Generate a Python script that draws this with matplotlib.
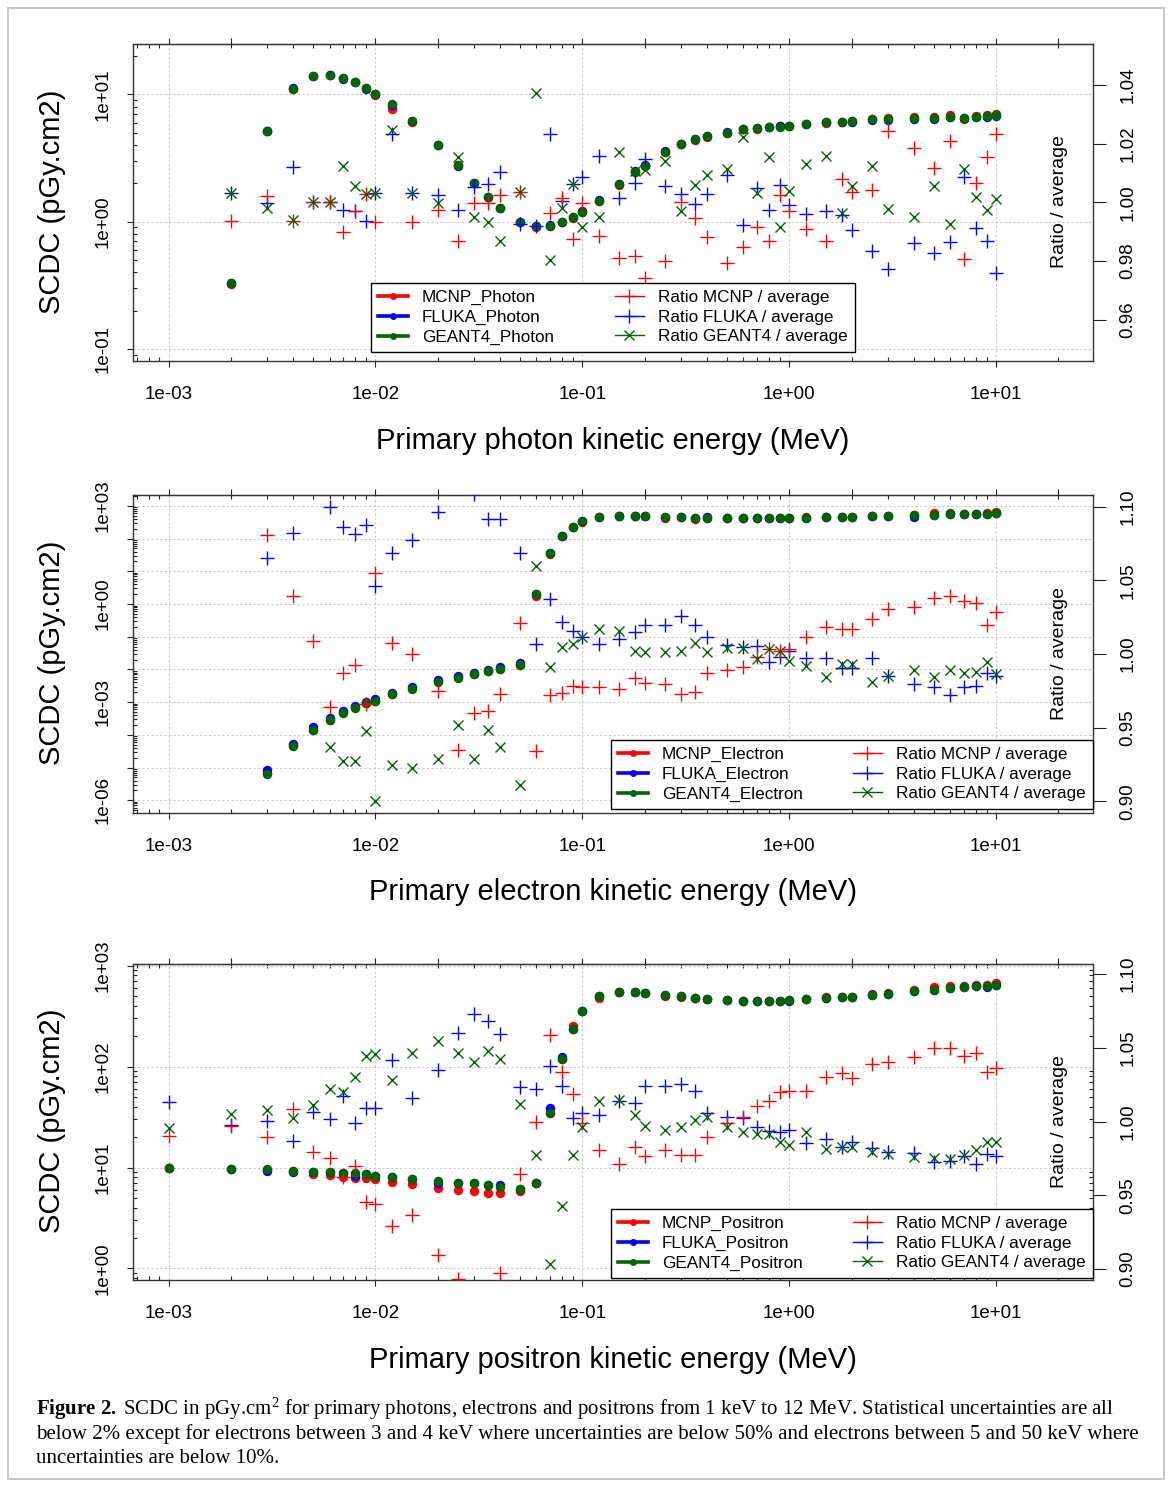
import matplotlib
matplotlib.use('Agg')
import matplotlib.pyplot as plt
from matplotlib.lines import Line2D
from matplotlib.patches import Rectangle
from matplotlib.ticker import LogLocator, FuncFormatter, NullFormatter, NullLocator, FixedLocator
import numpy as np

plt.rcParams['font.family'] = ['Liberation Sans', 'DejaVu Sans']
plt.rcParams['mathtext.fontset'] = 'custom'
plt.rcParams['mathtext.rm'] = 'Liberation Serif'
plt.rcParams['mathtext.bf'] = 'Liberation Serif:bold'
plt.rcParams['mathtext.it'] = 'Liberation Serif:italic'

# ---------------- DATA ----------------
E_photon = [0.002, 0.003, 0.004, 0.005, 0.006, 0.007, 0.008, 0.009, 0.01, 0.012, 0.015,
            0.02, 0.025, 0.03, 0.035, 0.04, 0.05, 0.06, 0.07, 0.08, 0.09, 0.1, 0.12, 0.15, 0.18,
            0.2, 0.25, 0.3, 0.35, 0.4, 0.5, 0.6, 0.7, 0.8, 0.9, 1, 1.2, 1.5, 1.8,
            2, 2.5, 3, 4, 5, 6, 7, 8, 9, 10]
photon_geant4 = [0.332, 5.19, 11.1, 13.9, 14.2, 13.5, 12.4, 11.3, 10.1, 8.35, 6.14,
                 3.98, 2.79, 2.0, 1.55, 1.28, 1.0, 0.93, 0.93, 1.0, 1.08, 1.2, 1.46, 1.96, 2.47,
                 2.75, 3.55, 4.07, 4.43, 4.71, 5.0, 5.35, 5.41, 5.58, 5.58, 5.64, 5.85, 6.03, 6.07,
                 6.14, 6.37, 6.40, 6.48, 6.56, 6.68, 6.48, 6.68, 6.76, 6.88]
photon_mcnp = [0.325, 5.19, 11.1, 13.9, 14.2, 13.4, 12.4, 11.2, 9.85, 7.67, 6.10,
               3.98, 2.79, 2.0, 1.55, 1.28, 1.0, 0.90, 0.93, 1.0, 1.06, 1.2, 1.44, 1.93, 2.44,
               2.72, 3.50, 4.07, 4.40, 4.66, 4.95, 5.30, 5.38, 5.52, 5.60, 5.62, 5.80, 5.98, 6.10,
               6.16, 6.40, 6.55, 6.60, 6.65, 6.85, 6.40, 6.75, 6.90, 7.0]
photon_fluka = [0.332, 5.19, 11.3, 13.9, 14.2, 13.2, 12.4, 11.1, 10.1, 8.2, 6.14,
                3.98, 2.75, 2.0, 1.56, 1.29, 0.99, 0.92, 0.94, 1.0, 1.08, 1.21, 1.48, 1.96, 2.48,
                2.78, 3.56, 4.08, 4.43, 4.72, 5.04, 5.31, 5.44, 5.56, 5.61, 5.63, 5.83, 6.01, 6.04,
                6.09, 6.27, 6.26, 6.39, 6.45, 6.59, 6.54, 6.62, 6.67, 6.72]
ratio_photon_mcnp = [0.9936, 1.0022, 0.9936, 1.0, 1.0, 0.99, 0.9972, 1.0028, 0.9934, 0.953, 0.9934,
                     0.9974, 0.9868, 0.9999, 0.9999, 1.0025, 1.0036, 0.970, 0.9965, 1.0014, 0.9874, 0.9999,
                     0.9885, 0.9809, 0.9817, 0.9741, 0.98, 1.0, 0.9946, 0.9881, 0.9795, 0.9847, 0.9917,
                     0.9868, 1.0025, 0.9972, 0.9908, 0.9868, 1.0078, 1.0036, 1.0042, 1.0243, 1.0184,
                     1.0116, 1.021, 0.9806, 1.0065, 1.0153, 1.0232]
ratio_photon_fluka = [1.0031, 0.9999, 1.0119, 1.0, 1.0, 0.9974, 0.9972, 0.9938, 1.0031, 1.0232, 1.0031,
                      1.0025, 0.9974, 1.0053, 1.0062, 1.0102, 0.9928, 0.992, 1.0233, 1.0006, 1.0062, 1.0085,
                      1.0158, 1.0016, 1.0067, 1.0146, 1.0057, 1.0028, 0.9994, 1.0028, 1.0093, 0.9923, 1.005,
                      0.9974, 1.0059, 0.9991, 0.996, 0.997, 0.9957, 0.9906, 0.9835, 0.9772, 0.986,
                      0.9826, 0.9864, 1.0085, 0.9914, 0.9868, 0.976]
ratio_photon_geant4 = [1.0031, 0.9982, 0.994, 1.0, 1.0, 1.0125, 1.0056, 1.0028, 1.0031, 1.0246, 1.0031,
                       0.9997, 1.0155, 0.9949, 0.9934, 0.9869, 1.0036, 1.0373, 0.9804, 0.998, 1.0062, 0.9915,
                       0.9951, 1.017, 1.0108, 1.011, 1.0142, 0.9972, 1.0059, 1.0093, 1.0113, 1.0224, 1.0031,
                       1.0155, 0.9917, 1.004, 1.0131, 1.0158, 0.9963, 1.0057, 1.0124, 0.9976, 0.9951,
                       1.0056, 0.9925, 1.0112, 1.0019, 0.9974, 1.001]

E_electron = [0.003, 0.004, 0.005, 0.006, 0.007, 0.008, 0.009, 0.01, 0.012, 0.015,
              0.02, 0.025, 0.03, 0.035, 0.04, 0.05, 0.06, 0.07, 0.08, 0.09, 0.1, 0.12, 0.15, 0.18,
              0.2, 0.25, 0.3, 0.35, 0.4, 0.5, 0.6, 0.7, 0.8, 0.9, 1, 1.2, 1.5, 1.8,
              2, 2.5, 3, 4, 5, 6, 7, 8, 9, 10]
electron_geant4 = [6.5e-6, 4.65e-5, 1.4e-4, 2.8e-4, 4.8e-4, 6.8e-4, 9.1e-4, 1.08e-3, 1.73e-3, 2.6e-3,
                   4.2e-3, 5.6e-3, 7.2e-3, 8.9e-3, 1.0e-2, 1.33e-2, 2.07, 35.5, 120, 232, 355, 457, 493, 505,
                   505, 468, 457, 437, 437, 417, 417, 417, 417, 417, 417, 437, 457, 457,
                   457, 493, 493, 526, 526, 550, 563, 563, 576, 590]
electron_mcnp = [6.8e-6, 4.8e-5, 1.45e-4, 2.9e-4, 4.9e-4, 7.0e-4, 9.3e-4, 1.1e-3, 1.78e-3, 2.65e-3,
                 4.3e-3, 5.7e-3, 7.4e-3, 9.1e-3, 1.03e-2, 1.36e-2, 1.76, 34.0, 118, 228, 325, 450, 490, 502,
                 505, 415, 455, 398, 437, 417, 417, 417, 417, 417, 420, 468, 460, 460,
                 460, 500, 505, 540, 590, 590, 575, 575, 590, 662]
electron_fluka = [8.2e-6, 5.4e-5, 1.7e-4, 3.2e-4, 5.3e-4, 7.7e-4, 9.9e-4, 1.24e-3, 1.95e-3, 2.9e-3,
                  4.6e-3, 6.3e-3, 8.0e-3, 9.6e-3, 1.17e-2, 1.53e-2, 2.07, 35.5, 122, 232, 355, 457, 493, 505,
                  505, 468, 457, 437, 470, 417, 417, 417, 417, 417, 417, 437, 457, 457,
                  457, 493, 493, 468, 526, 550, 563, 563, 576, 590]
ratio_electron_mcnp = [1.0805, 1.0395, 1.0091, 0.964, 0.9868, 0.9925, 0.966, 1.0549, 1.0073, 0.9998,
                       0.9748, 0.9351, 0.9596, 0.9614, 0.9728, 1.0209, 0.9342, 0.9721, 0.9732, 0.9782,
                       0.9778, 0.9778, 0.976, 0.9839, 0.98, 0.9794, 0.9728, 0.9739, 0.9873, 0.9891,
                       0.9909, 0.9982, 1.0034, 1.0023, 1.0034, 1.0118, 1.0186, 1.017, 1.017, 1.0238,
                       1.0304, 1.0318, 1.0379, 1.0395, 1.0361, 1.0345, 1.0197, 1.0288]
ratio_electron_fluka = [1.0655, 1.0821, 1.12, 1.0996, 1.0866, 1.0814, 1.0873, 1.0465, 1.0689, 1.0776,
                        1.0964, 1.113, 1.109, 1.0916, 1.0916, 1.0689, 1.0066, 1.0372, 1.022, 1.0159,
                        1.0118, 1.0066, 1.0102, 1.0152, 1.0197, 1.0197, 1.0259, 1.0197, 1.0118, 1.0061,
                        1.005, 1.0057, 0.9943, 0.9982, 1.0023, 0.997, 0.9975, 0.9907, 0.9907, 0.997,
                        0.9853, 0.9794, 0.9778, 0.9721, 0.9778, 0.9785, 0.9868, 0.9853]
ratio_electron_geant4 = [0.854, 0.878, 0.871, 0.937, 0.9272, 0.9272, 0.9476, 0.90, 0.9245, 0.9227,
                         0.9286, 0.9521, 0.929, 0.9483, 0.937, 0.9109, 1.0599, 0.9914, 1.005, 1.0068,
                         1.0118, 1.017, 1.0156, 1.002, 1.0016, 1.0016, 1.002, 1.0073, 1.0011, 1.0043,
                         1.0043, 0.9966, 1.0034, 1.0023, 0.9955, 0.9921, 0.9846, 0.993, 0.993, 0.9807,
                         0.9853, 0.9891, 0.9846, 0.9891, 0.9868, 0.9875, 0.9948, 0.9864]

E_positron = [0.001, 0.002, 0.003, 0.004, 0.005, 0.006, 0.007, 0.008, 0.009, 0.01, 0.012, 0.015,
              0.02, 0.025, 0.03, 0.035, 0.04, 0.05, 0.06, 0.07, 0.08, 0.09, 0.1, 0.12, 0.15, 0.18,
              0.2, 0.25, 0.3, 0.35, 0.4, 0.5, 0.6, 0.7, 0.8, 0.9, 1, 1.2, 1.5, 1.8,
              2, 2.5, 3, 4, 5, 6, 7, 8, 9, 10]
positron_geant4 = [10.0, 9.7, 9.6, 9.33, 9.0, 9.0, 8.79, 8.79, 8.59, 8.33, 8.14, 7.66,
                   7.43, 7.10, 7.0, 6.73, 6.38, 6.14, 7.10, 34.6, 118, 237, 352, 501, 545, 545,
                   536, 516, 496, 478, 471, 453, 443, 443, 443, 443, 460, 471, 478, 489,
                   489, 516, 527, 556, 578, 601, 614, 624, 634, 649]
positron_mcnp = [10.0, 9.7, 9.5, 9.2, 8.6, 8.46, 8.14, 7.96, 7.84, 7.66, 7.27, 6.84,
                 6.33, 6.0, 5.87, 5.56, 5.56, 5.92, 7.10, 34.6, 120, 250, 352, 481, 545, 545,
                 536, 505, 485, 478, 471, 453, 443, 443, 443, 443, 460, 471, 485, 495,
                 495, 525, 540, 575, 614, 634, 630, 640, 640, 675]
positron_fluka = [10.0, 9.7, 9.3, 9.0, 9.0, 9.0, 8.79, 8.3, 8.59, 8.33, 8.14, 7.66,
                  7.0, 7.10, 7.1, 6.73, 6.65, 6.14, 7.10, 39.2, 125, 237, 352, 501, 545, 545,
                  536, 516, 496, 478, 471, 453, 443, 443, 443, 443, 450, 471, 478, 489,
                  489, 516, 527, 556, 578, 601, 614, 624, 620, 649]
ratio_positron_mcnp = [0.9905, 0.9971, 0.9898, 1.0086, 0.9792, 0.9751, 0.9627, 0.9701, 0.9457, 0.9439,
                       0.9292, 0.9367, 0.9095, 0.8932, 0.8865, 0.884, 0.8971, 0.9645, 0.9995, 1.0588,
                       1.0333, 1.0185, 0.9989, 0.9808, 0.9713, 0.983, 0.9769, 0.9808, 0.9774, 0.9774,
                       0.9898, 0.9989, 1.0029, 1.0106, 1.014, 1.0199, 1.0208, 1.0208, 1.0305, 1.0328,
                       1.0294, 1.0389, 1.0407, 1.0437, 1.0498, 1.0498, 1.0441, 1.0464, 1.0339, 1.0366]
ratio_positron_fluka = [1.0131, 0.998, 1.0007, 0.9871, 1.0068, 1.0016, 1.017, 0.9989, 1.009, 1.0095,
                        1.0418, 1.0163, 1.0351, 1.0599, 1.0728, 1.0679, 1.0595, 1.0231, 1.0219, 1.0378,
                        1.0244, 1.0023, 1.0057, 1.0045, 1.0136, 1.0124, 1.0244, 1.0238, 1.0253, 1.0204,
                        1.0057, 1.0029, 1.0023, 0.9962, 0.9939, 0.9932, 0.9943, 0.9853, 0.988, 0.983,
                        0.9864, 0.9819, 0.9796, 0.9785, 0.9729, 0.9735, 0.9767, 0.971, 0.9781, 0.9767]
ratio_positron_geant4 = [0.9959, 1.005, 1.0079, 1.0023, 1.0113, 1.0222, 1.0199, 1.0305, 1.0441, 1.0459,
                         1.0283, 1.0464, 1.0543, 1.0464, 1.0407, 1.048, 1.0423, 1.0118, 0.9774, 0.9032,
                         0.9428, 0.9774, 0.9966, 1.0136, 1.0147, 1.0045, 0.9973, 0.9943, 0.9962, 1.0011,
                         1.0034, 0.9966, 0.9928, 0.9916, 0.9916, 0.986, 0.9842, 0.9928, 0.9812, 0.983,
                         0.983, 0.9796, 0.9781, 0.9762, 0.9756, 0.9744, 0.9774, 0.9808, 0.986, 0.986]

x_label_texts = ['Primary photon kinetic energy (MeV)',
                 'Primary electron kinetic energy (MeV)',
                 'Primary positron kinetic energy (MeV)']
series_names = [['MCNP_Photon', 'FLUKA_Photon', 'GEANT4_Photon'],
                ['MCNP_Electron', 'FLUKA_Electron', 'GEANT4_Electron'],
                ['MCNP_Positron', 'FLUKA_Positron', 'GEANT4_Positron']]
ratio_names = ['Ratio MCNP / average', 'Ratio FLUKA / average', 'Ratio GEANT4 / average']
caption_lines = [
    r"$\mathbf{Figure\ 2.}\;$SCDC in pGy.cm$^{2}$ for primary photons, electrons and positrons from 1 keV to 12 MeV. Statistical uncertainties are all",
    "below 2% except for electrons between 3 and 4 keV where uncertainties are below 50% and electrons between 5 and 50 keV where",
    "uncertainties are below 10%.",
]

# ---------------- LAYOUT ----------------
W, H = 1171, 1485
fig = plt.figure(figsize=(W / 100, H / 100), dpi=100)

RED, BLUE, GREEN = '#FF0000', '#0000FF', '#006400'
AX_L, AX_R = 133, 1093
XLIM = (10 ** -3.172, 10 ** 1.468)


def fx(px):
    return px / W


def fy(py):
    return 1 - py / H


def sci(v, pos=None):
    return '%.0e' % v


panels = [
    dict(top=44, bot=361, ylog=(-1.094, 1.395), rlim=(0.946, 1.0539),
         rticks=[0.96, 0.98, 1.00, 1.02, 1.04], label_every=1,
         leg=(371, 352, 855), xl_y=441, mid=202, right_minor=False,
         E=E_photon, vals=(photon_mcnp, photon_fluka, photon_geant4),
         ratios=(ratio_photon_mcnp, ratio_photon_fluka, ratio_photon_geant4)),
    dict(top=495, bot=813, ylog=(-6.39, 3.333), rlim=(0.892, 1.108),
         rticks=[0.90, 0.95, 1.00, 1.05, 1.10], label_every=3,
         leg=(611, 809, 1093), xl_y=892, mid=653, right_minor=False,
         E=E_electron, vals=(electron_mcnp, electron_fluka, electron_geant4),
         ratios=(ratio_electron_mcnp, ratio_electron_fluka, ratio_electron_geant4)),
    dict(top=964, bot=1280, ylog=(-0.114, 3.017), rlim=(0.8926, 1.1068),
         rticks=[0.90, 0.95, 1.00, 1.05, 1.10], label_every=1,
         leg=(611, 1278, 1093), xl_y=1360, mid=1121, right_minor=True,
         E=E_positron, vals=(positron_mcnp, positron_fluka, positron_geant4),
         ratios=(ratio_positron_mcnp, ratio_positron_fluka, ratio_positron_geant4)),
]

for i, p in enumerate(panels):
    ax = fig.add_axes([fx(AX_L), fy(p['bot']), (AX_R - AX_L) / W, (p['bot'] - p['top']) / H])
    ax.set_xscale('log')
    ax.set_yscale('log')
    ax2 = ax.twinx()
    ax2.set_yscale('linear')
    ax.set_xlim(*XLIM)
    ax.set_ylim(10 ** p['ylog'][0], 10 ** p['ylog'][1])
    ax2.set_ylim(*p['rlim'])
    ax.set_axisbelow(True)

    # dots
    for vals, col in zip(p['vals'], (RED, BLUE, GREEN)):
        ax.plot(p['E'], vals, linestyle='none', marker='o', ms=6.8, mew=0, color=col, zorder=3)

    # ratio markers
    cols = (RED, BLUE, GREEN)
    mk = [('+', 10.5, 1.0), ('+', 10.5, 1.0), ('x', 7.2, 1.0)]
    for k in [1, 0, 2]:
        ax2.plot(p['E'], p['ratios'][k], linestyle='none', marker=mk[k][0], ms=mk[k][1],
                 mew=mk[k][2], color=cols[k], zorder=4)

    # axes, ticks
    ax.xaxis.set_major_locator(LogLocator(base=10, numticks=30))
    ax.xaxis.set_minor_locator(LogLocator(base=10, subs=np.arange(2, 10), numticks=30))
    ax.xaxis.set_major_formatter(FuncFormatter(sci))
    ax.xaxis.set_minor_formatter(NullFormatter())
    ax.yaxis.set_major_locator(LogLocator(base=10, numticks=30))
    ax.yaxis.set_minor_locator(LogLocator(base=10, subs=np.arange(2, 10), numticks=30))
    le = p['label_every']
    ax.yaxis.set_major_formatter(FuncFormatter(
        lambda v, pos, le=le: ('%.0e' % v) if int(round(np.log10(v))) % le == 0 else ''))
    ax.yaxis.set_minor_formatter(NullFormatter())
    ax.grid(True, which='major', color='#c8c8c8', linestyle=(0, (2, 2)), linewidth=0.8)
    ax.tick_params(which='major', direction='out', length=4.2, width=0.8, labelsize=13.5,
                   colors='#222222', labelcolor='black')
    ax.tick_params(axis='x', which='major', pad=14)
    ax.tick_params(axis='y', which='major', pad=11)
    ax.tick_params(which='minor', direction='in', length=3, width=0.8, top=True, colors='#222222')
    if p['right_minor']:
        ax.tick_params(axis='y', which='minor', right=True)
    for sp in ax.spines.values():
        sp.set_linewidth(1.0)
        sp.set_color('#333333')
    plt.setp(ax.get_yticklabels(), rotation=90, va='center')

    # top ticks at 1 and 2 x decades
    sec = ax.secondary_xaxis('top')
    sec.xaxis.set_major_locator(LogLocator(base=10, subs=(1.0, 2.0), numticks=30))
    sec.xaxis.set_minor_locator(NullLocator())
    sec.tick_params(direction='out', length=4.2, width=0.8, labeltop=False, colors='#222222')

    # ratio axis ticks
    ax2.yaxis.set_major_locator(FixedLocator(p['rticks']))
    ax2.yaxis.set_major_formatter(FuncFormatter(lambda v, pos: '%.2f' % v))
    ax2.tick_params(axis='y', direction='out', length=9, width=0.8, labelsize=13.5, pad=10,
                    colors='#222222', labelcolor='black')
    plt.setp(ax2.get_yticklabels(), rotation=90, va='center')
    for sp in ax2.spines.values():
        sp.set_visible(False)

    # legend
    handles = [Line2D([], [], color=c, lw=2.6, marker='o', ms=5, mew=0) for c in cols]
    handles += [Line2D([], [], color=RED, lw=1.0, marker='+', ms=10, mew=1.0),
                Line2D([], [], color=BLUE, lw=1.0, marker='+', ms=10, mew=1.0),
                Line2D([], [], color=GREEN, lw=1.0, marker='x', ms=7, mew=1.0)]
    labels = series_names[i] + ratio_names
    lx0, lyb, lx1 = p['leg']
    leg = ax2.legend(handles, labels, ncol=2, loc='lower left',
                     bbox_to_anchor=(fx(lx0), fy(lyb), (lx1 - lx0) / W, 0.05),
                     bbox_transform=fig.transFigure, mode='expand', fontsize=12.3,
                     frameon=True, fancybox=False, edgecolor='black', framealpha=1,
                     borderpad=0.42, labelspacing=0.27, handlelength=1.75, handletextpad=0.8,
                     borderaxespad=0, columnspacing=1.0)
    leg.get_frame().set_linewidth(1.0)
    leg.set_zorder(10)

    # labels
    fig.text(fx(613), fy(p['xl_y']), x_label_texts[i], ha='center', va='center', fontsize=21)
    fig.text(fx(52), fy(p['mid']), 'SCDC (pGy.cm2)', ha='center', va='center', rotation=90,
             fontsize=21)
    fig.text(fx(1060), fy(p['mid']), 'Ratio / average', ha='center', va='center', rotation=90,
             fontsize=14)

# caption
cap_texts = []
for j, line in enumerate(caption_lines):
    t = fig.text(fx(36), fy(1415 + 24 * j), line, ha='left', va='baseline',
                 fontsize=14, family='Liberation Serif')
    cap_texts.append(t)
fig.canvas.draw()
r = fig.canvas.get_renderer()
w2 = cap_texts[1].get_window_extent(r).width
scale = (1135 - 36) / w2
for t in cap_texts:
    t.set_fontsize(14 * scale)

# outer frame
fig.patches.append(Rectangle((fx(8), fy(1479)), 1156 / W, 1471 / H, transform=fig.transFigure,
                             fill=False, edgecolor='#c8c8c8', lw=1.5))

fig.savefig('out.png', dpi=100)
